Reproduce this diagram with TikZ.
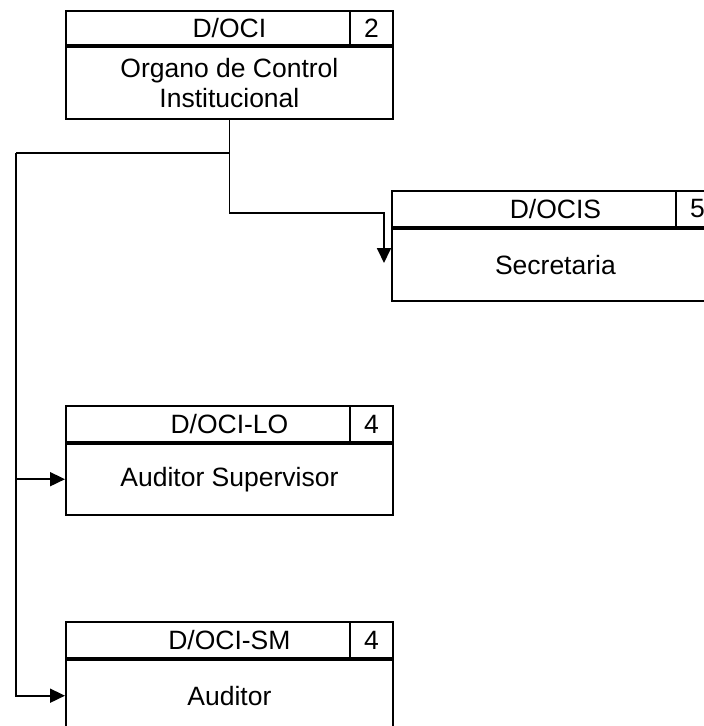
\documentclass[tikz,border=0pt]{standalone}
\usepackage{fontspec}
\setmainfont{Liberation Sans}
\usetikzlibrary{arrows.meta}
\begin{document}
\begin{tikzpicture}[x=1pt,y=-1pt,line width=1.8pt,
  txt/.style={font=\fontsize{26.5}{30}\selectfont},
  hdr/.style={draw,rectangle,minimum width=327pt,minimum height=35pt,inner sep=0pt,anchor=north west,txt},
  num/.style={draw,rectangle,minimum width=43pt,minimum height=35pt,inner sep=0pt,anchor=north east,txt},
  bodybox/.style={draw,rectangle,minimum width=327pt,minimum height=72pt,inner sep=0pt,anchor=north,align=center,txt},
  arr/.style={-{Triangle[length=15pt,width=14pt]}}]
\clip (0,0) rectangle (704,726);
% top box
\node[hdr,minimum height=34pt] (ocih) at (65,10) {D/OCI};
\node[num,minimum height=34pt] (ocin) at (ocih.north east) {2};
\node[bodybox] (oci) at (ocih.south) {Organo de Control\\Institucional};
% secretaria
\node[hdr,minimum height=36pt] (sech) at (391,190) {D/OCIS};
\node[num,minimum height=36pt] (secn) at (sech.north east) {5};
\node[bodybox] (sec) at (sech.south) {Secretaria};
% auditor supervisor
\node[hdr,minimum height=36pt] (suph) at (65,405) {D/OCI-LO};
\node[num,minimum height=36pt] (supn) at (suph.north east) {4};
\node[bodybox,minimum height=71pt] (sup) at (suph.south) {Auditor Supervisor};
% auditor
\node[hdr,minimum height=36pt] (audh) at (65,621) {D/OCI-SM};
\node[num,minimum height=36pt] (audn) at (audh.north east) {4};
\node[bodybox] (aud) at (audh.south) {Auditor};
% connectors
\coordinate (j1) at (oci.south |- 0,153);
\coordinate (j2) at (oci.south |- 0,213);
\coordinate (lx) at (16,153);
\coordinate (sb) at (384,213);
\coordinate (sa) at (384,263);
\draw (oci.south) -- (j2);
\draw[arr] (j2) -- (sb) -- (sa);
\draw (j1) -- (lx);
\draw[arr] (lx) |- (sup.west);
\draw[arr] (lx) |- (aud.west);
\end{tikzpicture}
\end{document}
